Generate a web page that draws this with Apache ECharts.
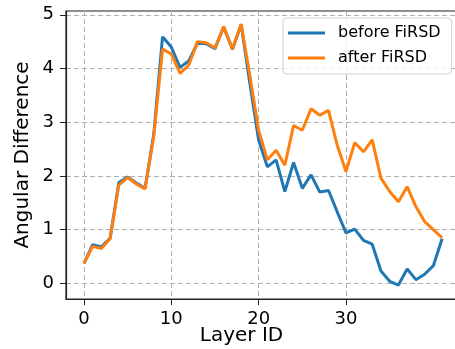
<!DOCTYPE html>
<html>
<head>
<meta charset="utf-8">
<script src="https://cdn.jsdelivr.net/npm/echarts@6/dist/echarts.min.js"></script>
<style>
  html, body { margin: 0; padding: 0; background: #fff; }
  #main { width: 455px; height: 349px; }
</style>
</head>
<body>
<div id="main"></div>
<script>
// layer ids 0..41
const layers = [0, 1, 2, 3, 4, 5, 6, 7, 8, 9, 10, 11, 12, 13, 14, 15, 16, 17, 18, 19, 20,
    21, 22, 23, 24, 25, 26, 27, 28, 29, 30, 31, 32, 33, 34, 35, 36, 37, 38, 39, 40, 41];
const beforeFiRSD = [0.37, 0.72, 0.68, 0.84, 1.88, 1.98, 1.87, 1.77, 2.78, 4.59, 4.40,
    4.02, 4.14, 4.47, 4.46, 4.37, 4.77, 4.36, 4.82, 3.72, 2.67, 2.17, 2.30, 1.71, 2.25,
    1.77, 2.02, 1.70, 1.73, 1.33, 0.94, 1.01, 0.80, 0.73, 0.23, 0.04, -0.03, 0.27, 0.07,
    0.17, 0.33, 0.83];
const afterFiRSD = [0.37, 0.69, 0.65, 0.83, 1.83, 1.97, 1.85, 1.76, 2.74, 4.36, 4.27,
    3.91, 4.06, 4.50, 4.48, 4.38, 4.78, 4.36, 4.83, 3.86, 2.85, 2.30, 2.48, 2.20, 2.94,
    2.85, 3.25, 3.13, 3.22, 2.57, 2.08, 2.62, 2.45, 2.67, 1.96, 1.71, 1.52, 1.80, 1.43,
    1.15, 1.00, 0.85];
const xTicks = [0, 10, 20, 30];
const yTicks = [0, 1, 2, 3, 4, 5];

const font = 'DejaVu Sans';
const gridLine = { show: true, lineStyle: { color: '#b0b0b0', width: 1, type: [5, 3] } };

let myChart = echarts.init(document.getElementById('main'));
myChart.setOption({
    animation: false,
    grid: {
        left: 66, top: 11, width: 394, height: 288,
        outerBoundsMode: 'none',
        containLabel: false,
        show: true, borderColor: '#222', borderWidth: 1.2, backgroundColor: 'transparent'
    },
    legend: {
        orient: 'vertical',
        left: 283, top: 18,
        padding: [7, 11, 8, 5],
        itemGap: 9,
        itemWidth: 37, itemHeight: 3,
        icon: 'rect',
        backgroundColor: 'rgba(255,255,255,0.8)',
        borderColor: '#d0d0d0', borderWidth: 1, borderRadius: 4,
        textStyle: { fontFamily: font, fontSize: 16, color: '#000', lineHeight: 16, padding: [0, 0, 0, 8] },
        data: ['before FiRSD', 'after FiRSD']
    },
    xAxis: {
        type: 'value',
        min: -2.05, max: 43.05,
        name: 'Layer ID',
        nameLocation: 'middle',
        nameGap: 27,
        nameMoveOverlap: false,
        nameTextStyle: { fontFamily: font, fontSize: 20, color: '#000', padding: [0, 43, 0, 0] },
        axisLine: { show: true, onZero: false, lineStyle: { color: '#222', width: 1.2 } },
        axisTick: { show: true, length: 6, customValues: xTicks, lineStyle: { color: '#222' } },
        axisLabel: { customValues: xTicks, margin: 11, fontFamily: font, fontSize: 18, color: '#000' },
        splitLine: gridLine
    },
    yAxis: {
        type: 'value',
        min: -0.29, max: 5.07,
        name: 'Angular Difference',
        nameLocation: 'middle',
        nameGap: 33,
        nameMoveOverlap: false,
        nameTextStyle: { fontFamily: font, fontSize: 20, color: '#000' },
        axisLine: { show: true, onZero: false, lineStyle: { color: '#222', width: 1.2 } },
        axisTick: { show: true, length: 6, customValues: yTicks, lineStyle: { color: '#222' } },
        axisLabel: { customValues: yTicks, margin: 12, fontFamily: font, fontSize: 18, color: '#000' },
        splitLine: gridLine
    },
    series: [{
        name: 'before FiRSD',
        type: 'line',
        data: layers.map((l, i) => [l, beforeFiRSD[i]]),
        showSymbol: false,
        color: '#1f77b4',
        lineStyle: { width: 3 }
    }, {
        name: 'after FiRSD',
        type: 'line',
        data: layers.map((l, i) => [l, afterFiRSD[i]]),
        showSymbol: false,
        color: '#ff7f0e',
        lineStyle: { width: 3 }
    }]
});
</script>
</body>
</html>
